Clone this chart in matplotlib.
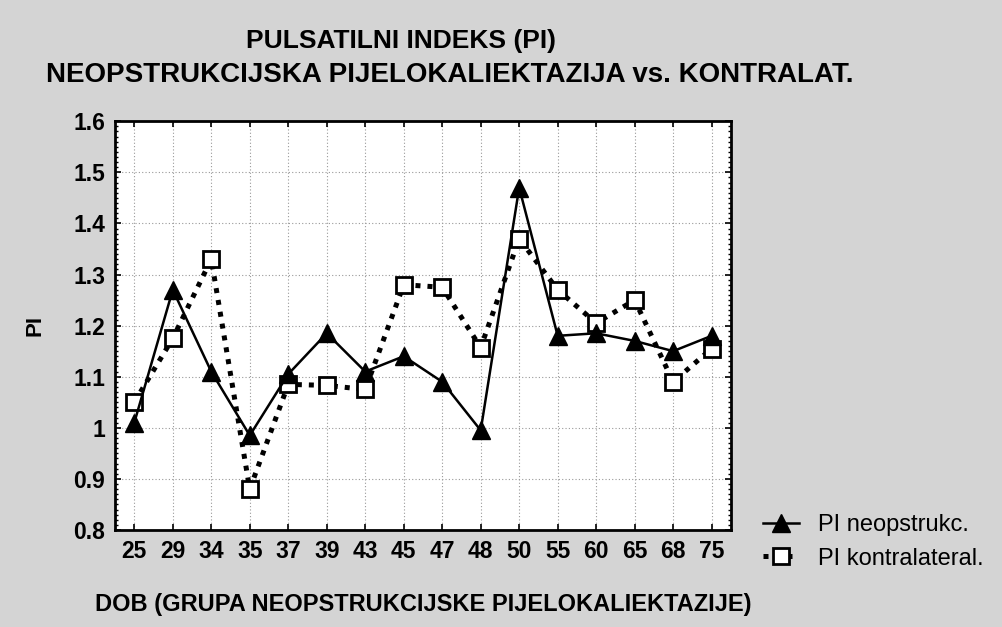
import matplotlib
matplotlib.use("Agg")
import matplotlib.pyplot as plt
from matplotlib.ticker import MultipleLocator

categories = ["25", "29", "34", "35", "37", "39", "43", "45", "47", "48", "50", "55", "60", "65", "68", "75"]
pi_neopstruk = [1.01, 1.27, 1.11, 0.985, 1.105, 1.185, 1.11, 1.14, 1.09, 0.995, 1.47, 1.18, 1.185, 1.17, 1.15, 1.18]
pi_kontralat = [1.05, 1.175, 1.33, 0.88, 1.085, 1.083, 1.075, 1.28, 1.275, 1.157, 1.37, 1.27, 1.205, 1.25, 1.09, 1.155]
yticks = [0.8, 0.9, 1.0, 1.1, 1.2, 1.3, 1.4, 1.5, 1.6]
ytick_labels = ["0.8", "0.9", "1", "1.1", "1.2", "1.3", "1.4", "1.5", "1.6"]

plt.rcParams['font.family'] = ['Liberation Sans', 'DejaVu Sans']

fig = plt.figure(figsize=(10.03, 6.27), dpi=100)
fig.patch.set_facecolor('#d4d4d4')
ax = fig.add_axes([0.1147, 0.1547, 0.614, 0.652])
ax.set_facecolor('white')

x = list(range(len(categories)))
ax.plot(x, pi_neopstruk, color='black', linestyle='-', linewidth=1.8,
        marker='^', markersize=13, markerfacecolor='black', markeredgecolor='black',
        label='PI neopstrukc.', zorder=4)
ax.plot(x, pi_kontralat, color='black', linestyle=(0, (1, 1.4)), linewidth=3.6,
        marker='s', markersize=12, markerfacecolor='white', markeredgecolor='black',
        markeredgewidth=2, label='PI kontralateral.', zorder=3)

ax.set_xlim(-0.5, len(categories) - 0.5)
ax.set_ylim(0.8, 1.6)
ax.set_xticks(x)
ax.set_xticklabels(categories)
ax.set_yticks(yticks)
ax.set_yticklabels(ytick_labels)
ax.yaxis.set_minor_locator(MultipleLocator(0.01))
ax.tick_params(axis='both', which='major', direction='in', length=4, width=1.2,
               top=True, right=True, labelsize=16.5, pad=7)
ax.tick_params(axis='y', which='minor', direction='in', length=2.5, width=1, left=True, right=True)
for lab in ax.get_xticklabels() + ax.get_yticklabels():
    lab.set_fontweight('bold')
ax.grid(True, which='major', color='#999999', linestyle=(0, (1, 2)), linewidth=0.8)
for s in ax.spines.values():
    s.set_linewidth(2)

ax.set_ylabel('PI', fontsize=16, fontweight='bold', labelpad=20)
ax.set_xlabel('DOB (GRUPA NEOPSTRUKCIJSKE PIJELOKALIEKTAZIJE)', fontsize=17, fontweight='bold', labelpad=22)

fig.text(0.40, 0.935, 'PULSATILNI INDEKS (PI)', ha='center', va='center', fontsize=19, fontweight='bold')
fig.text(0.448, 0.88, 'NEOPSTRUKCIJSKA PIJELOKALIEKTAZIJA vs. KONTRALAT.', ha='center', va='center',
         fontsize=20, fontweight='bold')

leg = fig.legend(loc='center left', bbox_to_anchor=(0.74, 0.136), frameon=False, fontsize=17,
                 handlelength=1.5, handletextpad=0.8, labelspacing=0.5)

fig.savefig('out.png', dpi=100, facecolor=fig.get_facecolor())
